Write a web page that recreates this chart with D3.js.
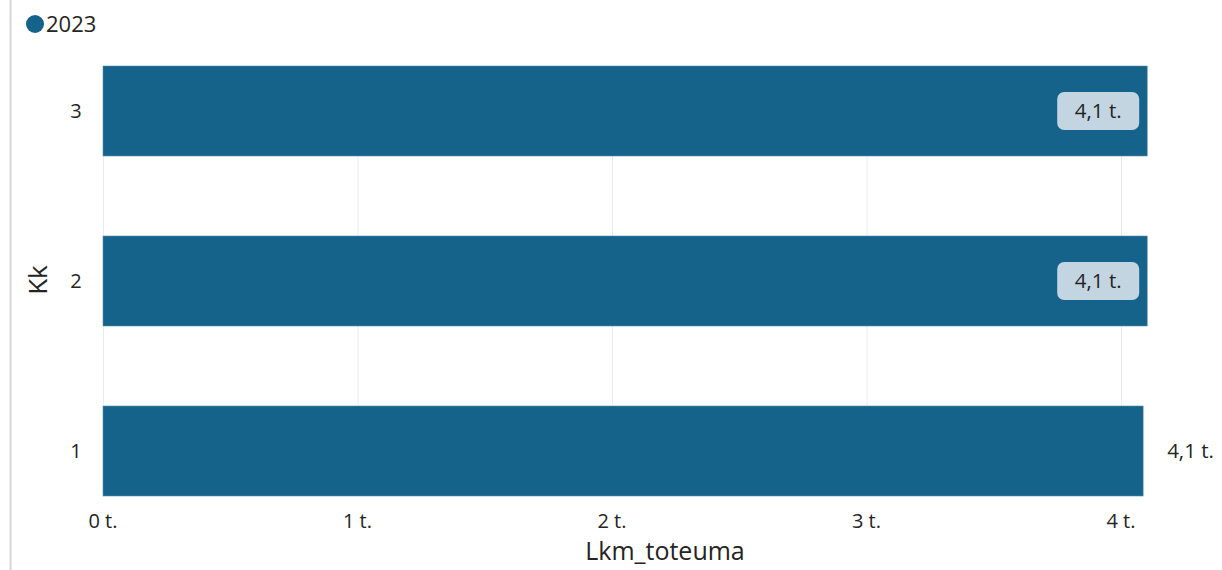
<!DOCTYPE html>
<html><head><meta charset="utf-8">
<script src="https://cdn.jsdelivr.net/npm/d3@7"></script>
<style>body{margin:0;background:#fff;}svg{display:block;font-family:"Open Sans","Noto Sans",sans-serif;}</style>
</head><body>
<svg id="c" width="1222" height="570"></svg>
<script>
const categories = ["3", "2", "1"];
const values = [4103, 4103, 4087];
const labels = ["4,1 t.", "4,1 t.", "4,1 t."];
const xTicks = [0, 1000, 2000, 3000, 4000];
const xTickLabels = ["0 t.", "1 t.", "2 t.", "3 t.", "4 t."];
const seriesName = "2023";

const svg = d3.select("#c");
const color = "#15628A";

// left border
svg.append("line").attr("x1",10.5).attr("x2",10.5).attr("y1",0).attr("y2",570).attr("stroke","#d6d6d6").attr("stroke-width",2);

const x = d3.scaleLinear().domain([0,4000]).range([103,1121]);
const y = d3.scaleBand().domain(categories).range([66,496]).paddingInner(80/170).paddingOuter(0);

// gridlines
svg.append("g").selectAll("line").data(xTicks).join("line")
  .attr("x1",d=>x(d)+0.5).attr("x2",d=>x(d)+0.5).attr("y1",66).attr("y2",496)
  .attr("stroke","#ebebeb").attr("stroke-width",1);

// bars
svg.append("g").selectAll("rect").data(categories).join("rect")
  .attr("x",x(0)).attr("y",d=>y(d))
  .attr("width",(d,i)=>x(values[i])-x(0)).attr("height",y.bandwidth())
  .attr("fill",color).attr("stroke","#5d90ad").attr("stroke-width",0.6);

// labels
categories.forEach((c,i)=>{
  const xe = x(values[i]);
  const cy = y(c)+y.bandwidth()/2;
  if(i<2){
    svg.append("rect").attr("x",xe-90).attr("y",cy-19).attr("width",82).attr("height",38)
      .attr("rx",7).attr("fill","#c2d5e1");
    svg.append("text").attr("x",xe-49).attr("y",cy+7).attr("text-anchor","middle")
      .attr("font-size",20.5).attr("fill","#252423").text(labels[i]);
  } else {
    svg.append("text").attr("x",xe+24).attr("y",cy+7).attr("text-anchor","start")
      .attr("font-size",20.5).attr("fill","#252423").text(labels[i]);
  }
});

// y tick labels
svg.append("g").selectAll("text").data(categories).join("text")
  .attr("x",76).attr("y",d=>y(d)+y.bandwidth()/2+7).attr("text-anchor","middle")
  .attr("font-size",20).attr("fill","#252423").text(d=>d);

// x tick labels
svg.append("g").selectAll("text").data(xTicks).join("text")
  .attr("x",d=>x(d)).attr("y",528).attr("text-anchor","middle")
  .attr("font-size",20).attr("fill","#252423").text((d,i)=>xTickLabels[i]);

// axis titles
svg.append("text").attr("x",665).attr("y",560).attr("text-anchor","middle")
  .attr("font-size",25).attr("fill","#252423").text("Lkm_toteuma");
svg.append("text").attr("transform","translate(47,280) rotate(-90)").attr("text-anchor","middle")
  .attr("font-size",26).attr("fill","#252423").text("Kk");

// legend
svg.append("circle").attr("cx",35).attr("cy",24).attr("r",9).attr("fill",color);
svg.append("text").attr("x",46).attr("y",32).attr("font-size",22).attr("fill","#252423").text(seriesName);
</script>
</body></html>
